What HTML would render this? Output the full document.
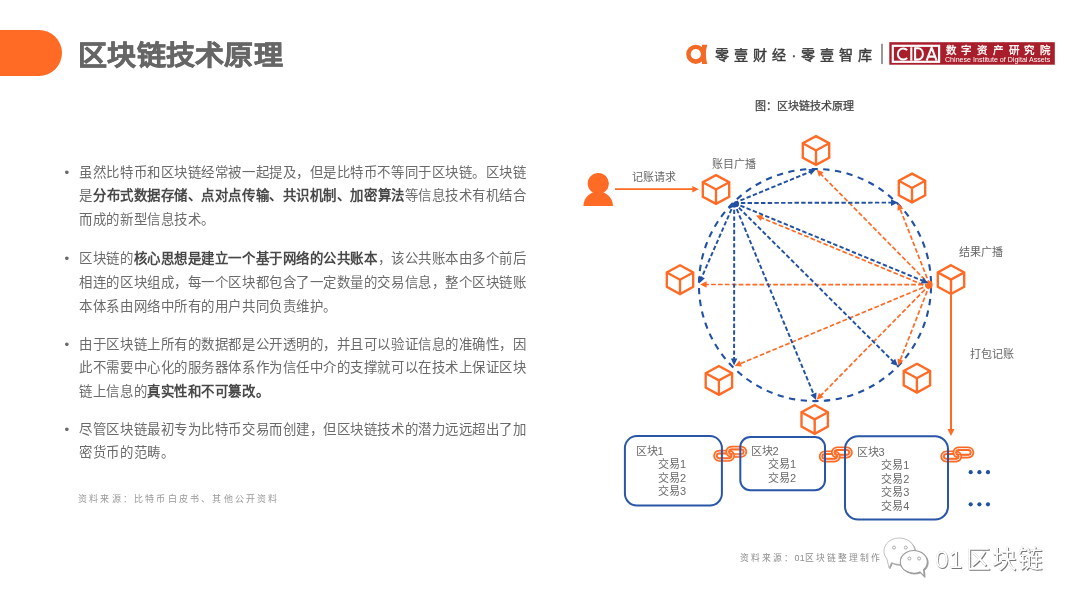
<!DOCTYPE html>
<html lang="zh-CN"><head><meta charset="utf-8">
<style>
html,body{margin:0;padding:0;background:#fff;}
body{width:1080px;height:608px;position:relative;overflow:hidden;font-family:"Liberation Sans",sans-serif;}
.abs{position:absolute;white-space:nowrap;}
#wrap{position:absolute;left:0;top:0;width:1080px;height:608px;will-change:transform;}
#pill{position:absolute;left:-30px;top:29.6px;width:92.2px;height:46px;background:#FF6A24;border-radius:0 23px 23px 0;}
#title{position:absolute;left:78px;top:37.1px;transform:scaleY(0.935);transform-origin:0 0;font-size:29px;font-weight:bold;color:#666;letter-spacing:0.3px;line-height:40px;-webkit-text-stroke:0.6px #666;}
.para{position:absolute;left:79.4px;font-size:13.4px;letter-spacing:0.55px;line-height:23.7px;color:#6a6a6a;white-space:nowrap;margin-top:0.7px;}
.para b{color:#484848;}
.bul{position:absolute;left:-15px;}
.lbl{position:absolute;font-size:11px;color:#666;white-space:nowrap;line-height:12px;}
.blk{position:absolute;font-size:11px;color:#6A6A6A;white-space:nowrap;line-height:13.55px;}
svg{position:absolute;left:0;top:0;}
</style></head><body><div id="wrap">
<div id="pill"></div>
<div id="title">区块链技术原理</div>

<div class="para" style="top:160px"><span class="bul">•</span>虽然比特币和区块链经常被一起提及，但是比特币不等同于区块链。区块链<br>是<b>分布式数据存储、点对点传输、共识机制、加密算法</b>等信息技术有机结合<br>而成的新型信息技术。</div>
<div class="para" style="top:246.5px"><span class="bul">•</span>区块链的<b>核心思想是建立一个基于网络的公共账本</b>，该公共账本由多个前后<br>相连的区块组成，每一个区块都包含了一定数量的交易信息，整个区块链账<br>本体系由网络中所有的用户共同负责维护。</div>
<div class="para" style="top:332px"><span class="bul">•</span>由于区块链上所有的数据都是公开透明的，并且可以验证信息的准确性，因<br>此不需要中心化的服务器体系作为信任中介的支撑就可以在技术上保证区块<br>链上信息的<b>真实性和不可篡改。</b></div>
<div class="para" style="top:417px"><span class="bul">•</span>尽管区块链最初专为比特币交易而创建，但区块链技术的潜力远远超出了加<br>密货币的范畴。</div>
<div class="abs" style="left:78px;top:492px;font-size:9px;letter-spacing:2.2px;color:#999;font-family:'Liberation Serif',serif;">资料来源：比特币白皮书、其他公开资料</div>

<svg width="1080" height="608" viewBox="0 0 1080 608">
<circle cx="815" cy="285.05" r="116.05" fill="none" stroke="#2251A3" stroke-width="2.1" stroke-dasharray="6.3 5.455" stroke-dashoffset="9.555"/>
<line x1="929.7" y1="287.5" x2="761.5" y2="217.8" stroke="#FF6A24" stroke-width="1.7" stroke-dasharray="4.7 2.2"/><polygon points="756.0,215.5 763.2,215.0 760.8,220.9" fill="#FF6A24"/>
<line x1="929.7" y1="284.7" x2="820.9" y2="174.1" stroke="#FF6A24" stroke-width="1.7" stroke-dasharray="4.7 2.2"/><polygon points="816.7,169.8 823.5,172.2 819.0,176.7" fill="#FF6A24"/>
<line x1="929.7" y1="284.7" x2="900.2" y2="209.2" stroke="#FF6A24" stroke-width="1.7" stroke-dasharray="4.7 2.2"/><polygon points="898.0,203.6 903.3,208.5 897.4,210.8" fill="#FF6A24"/>
<line x1="929.7" y1="284.7" x2="900.3" y2="360.1" stroke="#FF6A24" stroke-width="1.7" stroke-dasharray="4.7 2.2"/><polygon points="898.1,365.7 897.5,358.5 903.4,360.8" fill="#FF6A24"/>
<line x1="929.7" y1="284.7" x2="820.9" y2="395.4" stroke="#FF6A24" stroke-width="1.7" stroke-dasharray="4.7 2.2"/><polygon points="816.7,399.7 819.0,392.8 823.5,397.3" fill="#FF6A24"/>
<line x1="929.7" y1="284.7" x2="740.2" y2="363.7" stroke="#FF6A24" stroke-width="1.7" stroke-dasharray="4.7 2.2"/><polygon points="734.7,366.0 739.5,360.5 741.9,366.5" fill="#FF6A24"/>
<line x1="929.7" y1="284.7" x2="706.1" y2="284.5" stroke="#FF6A24" stroke-width="1.7" stroke-dasharray="4.7 2.2"/><polygon points="700.1,284.5 706.6,281.3 706.6,287.7" fill="#FF6A24"/>
<line x1="734.2" y1="203.0" x2="810.1" y2="171.8" stroke="#2251A3" stroke-width="1.95" stroke-dasharray="4.4 2.3"/><polygon points="816.1,169.3 810.9,175.0 808.4,168.9" fill="#2251A3"/>
<line x1="734.2" y1="203.0" x2="891.5" y2="202.6" stroke="#2251A3" stroke-width="1.95" stroke-dasharray="4.4 2.3"/><polygon points="898.0,202.6 891.0,205.9 891.0,199.3" fill="#2251A3"/>
<line x1="734.2" y1="203.0" x2="922.5" y2="280.7" stroke="#2251A3" stroke-width="1.95" stroke-dasharray="4.4 2.3"/><polygon points="928.5,283.2 920.8,283.6 923.3,277.5" fill="#2251A3"/>
<line x1="734.2" y1="203.0" x2="893.2" y2="361.5" stroke="#2251A3" stroke-width="1.95" stroke-dasharray="4.4 2.3"/><polygon points="897.8,366.1 890.5,363.5 895.2,358.8" fill="#2251A3"/>
<line x1="734.2" y1="203.0" x2="813.6" y2="394.1" stroke="#2251A3" stroke-width="1.95" stroke-dasharray="4.4 2.3"/><polygon points="816.1,400.1 810.4,394.9 816.5,392.4" fill="#2251A3"/>
<line x1="734.2" y1="203.0" x2="734.1" y2="358.9" stroke="#2251A3" stroke-width="1.95" stroke-dasharray="4.4 2.3"/><polygon points="734.1,365.4 730.8,358.4 737.4,358.4" fill="#2251A3"/>
<line x1="734.2" y1="203.0" x2="701.7" y2="277.4" stroke="#2251A3" stroke-width="1.95" stroke-dasharray="4.4 2.3"/><polygon points="699.1,283.4 698.9,275.7 704.9,278.3" fill="#2251A3"/>
<line x1="728.6" y1="208" x2="736" y2="204.3" stroke="#2251A3" stroke-width="2.2"/>
<circle cx="736.2" cy="204.3" r="2.8" fill="#2251A3"/>
<ellipse cx="930.3" cy="284.7" rx="2.3" ry="3.9" fill="#FF6A24"/>
<g transform="translate(716,189.5)" fill="none" stroke="#FF6A24" stroke-width="2.35" stroke-linejoin="miter"><polygon points="0,-14.4 13.2,-7.2 13.2,7.2 0,14.4 -13.2,7.2 -13.2,-7.2"/><polyline points="-13.2,-7.2 0,0 13.2,-7.2"/><line x1="0" y1="0" x2="0" y2="14.4"/></g>
<g transform="translate(816,150.5)" fill="none" stroke="#FF6A24" stroke-width="2.35" stroke-linejoin="miter"><polygon points="0,-14.4 13.2,-7.2 13.2,7.2 0,14.4 -13.2,7.2 -13.2,-7.2"/><polyline points="-13.2,-7.2 0,0 13.2,-7.2"/><line x1="0" y1="0" x2="0" y2="14.4"/></g>
<g transform="translate(912,188)" fill="none" stroke="#FF6A24" stroke-width="2.35" stroke-linejoin="miter"><polygon points="0,-14.4 13.2,-7.2 13.2,7.2 0,14.4 -13.2,7.2 -13.2,-7.2"/><polyline points="-13.2,-7.2 0,0 13.2,-7.2"/><line x1="0" y1="0" x2="0" y2="14.4"/></g>
<g transform="translate(951,279.6)" fill="none" stroke="#FF6A24" stroke-width="2.35" stroke-linejoin="miter"><polygon points="0,-14.4 13.2,-7.2 13.2,7.2 0,14.4 -13.2,7.2 -13.2,-7.2"/><polyline points="-13.2,-7.2 0,0 13.2,-7.2"/><line x1="0" y1="0" x2="0" y2="14.4"/></g>
<g transform="translate(916.9,378.2)" fill="none" stroke="#FF6A24" stroke-width="2.35" stroke-linejoin="miter"><polygon points="0,-14.4 13.2,-7.2 13.2,7.2 0,14.4 -13.2,7.2 -13.2,-7.2"/><polyline points="-13.2,-7.2 0,0 13.2,-7.2"/><line x1="0" y1="0" x2="0" y2="14.4"/></g>
<g transform="translate(814.7,419.4)" fill="none" stroke="#FF6A24" stroke-width="2.35" stroke-linejoin="miter"><polygon points="0,-14.4 13.2,-7.2 13.2,7.2 0,14.4 -13.2,7.2 -13.2,-7.2"/><polyline points="-13.2,-7.2 0,0 13.2,-7.2"/><line x1="0" y1="0" x2="0" y2="14.4"/></g>
<g transform="translate(718.9,380.4)" fill="none" stroke="#FF6A24" stroke-width="2.35" stroke-linejoin="miter"><polygon points="0,-14.4 13.2,-7.2 13.2,7.2 0,14.4 -13.2,7.2 -13.2,-7.2"/><polyline points="-13.2,-7.2 0,0 13.2,-7.2"/><line x1="0" y1="0" x2="0" y2="14.4"/></g>
<g transform="translate(680,279.7)" fill="none" stroke="#FF6A24" stroke-width="2.35" stroke-linejoin="miter"><polygon points="0,-14.4 13.2,-7.2 13.2,7.2 0,14.4 -13.2,7.2 -13.2,-7.2"/><polyline points="-13.2,-7.2 0,0 13.2,-7.2"/><line x1="0" y1="0" x2="0" y2="14.4"/></g>
<circle cx="598.3" cy="183.6" r="10.6" fill="#FF6A24"/>
<path d="M583.4,206.1 A14.8,14.6 0 0 1 613,206.1 Z" fill="#FF6A24"/>
<line x1="615.0" y1="189.2" x2="692.8" y2="189.2" stroke="#FF6A24" stroke-width="1.7" stroke-dasharray="none"/><polygon points="698.8,189.2 692.3,192.5 692.3,185.9" fill="#FF6A24"/>
<line x1="951.0" y1="294.5" x2="951.0" y2="429.5" stroke="#FF6A24" stroke-width="2.0" stroke-dasharray="none"/><polygon points="951.0,436.0 947.5,429.0 954.5,429.0" fill="#FF6A24"/>
<clipPath id="cu1"><rect x="711.2" y="443.8" width="40" height="10.6"/></clipPath><clipPath id="cl1"><rect x="711.2" y="454.4" width="40" height="12"/></clipPath><g clip-path="url(#cl1)"><rect x="727.7" y="448.1" width="17.2" height="7.4" rx="3.7" fill="none" stroke="#FF6A24" stroke-width="4.6"/><rect x="727.5" y="447.9" width="17.6" height="7.8" rx="3.9" fill="none" stroke="#fff" stroke-width="0.85"/></g><g ><rect x="715.5" y="452.1" width="17.2" height="7.4" rx="3.7" fill="none" stroke="#FF6A24" stroke-width="4.6"/><rect x="715.3" y="451.9" width="17.6" height="7.8" rx="3.9" fill="none" stroke="#fff" stroke-width="0.85"/></g><g clip-path="url(#cu1)"><rect x="727.7" y="448.1" width="17.2" height="7.4" rx="3.7" fill="none" stroke="#FF6A24" stroke-width="4.6"/><rect x="727.5" y="447.9" width="17.6" height="7.8" rx="3.9" fill="none" stroke="#fff" stroke-width="0.85"/></g>
<clipPath id="cu2"><rect x="816.8" y="444.4" width="40" height="10.6"/></clipPath><clipPath id="cl2"><rect x="816.8" y="455.0" width="40" height="12"/></clipPath><g clip-path="url(#cl2)"><rect x="833.3" y="448.7" width="17.2" height="7.4" rx="3.7" fill="none" stroke="#FF6A24" stroke-width="4.6"/><rect x="833.1" y="448.5" width="17.6" height="7.8" rx="3.9" fill="none" stroke="#fff" stroke-width="0.85"/></g><g ><rect x="821.1" y="452.7" width="17.2" height="7.4" rx="3.7" fill="none" stroke="#FF6A24" stroke-width="4.6"/><rect x="820.9" y="452.5" width="17.6" height="7.8" rx="3.9" fill="none" stroke="#fff" stroke-width="0.85"/></g><g clip-path="url(#cu2)"><rect x="833.3" y="448.7" width="17.2" height="7.4" rx="3.7" fill="none" stroke="#FF6A24" stroke-width="4.6"/><rect x="833.1" y="448.5" width="17.6" height="7.8" rx="3.9" fill="none" stroke="#fff" stroke-width="0.85"/></g>
<clipPath id="cu3"><rect x="938.3" y="444.4" width="40" height="10.6"/></clipPath><clipPath id="cl3"><rect x="938.3" y="455.0" width="40" height="12"/></clipPath><g clip-path="url(#cl3)"><rect x="954.8" y="448.7" width="17.2" height="7.4" rx="3.7" fill="none" stroke="#FF6A24" stroke-width="4.6"/><rect x="954.6" y="448.5" width="17.6" height="7.8" rx="3.9" fill="none" stroke="#fff" stroke-width="0.85"/></g><g ><rect x="942.6" y="452.7" width="17.2" height="7.4" rx="3.7" fill="none" stroke="#FF6A24" stroke-width="4.6"/><rect x="942.4" y="452.5" width="17.6" height="7.8" rx="3.9" fill="none" stroke="#fff" stroke-width="0.85"/></g><g clip-path="url(#cu3)"><rect x="954.8" y="448.7" width="17.2" height="7.4" rx="3.7" fill="none" stroke="#FF6A24" stroke-width="4.6"/><rect x="954.6" y="448.5" width="17.6" height="7.8" rx="3.9" fill="none" stroke="#fff" stroke-width="0.85"/></g>
<rect x="624.9" y="436.1" width="97" height="69.4" rx="12" fill="none" stroke="#2A56A8" stroke-width="2"/>
<rect x="740.3" y="437" width="84.7" height="53.2" rx="10" fill="none" stroke="#2A56A8" stroke-width="2"/>
<rect x="845" y="436.2" width="103" height="83.4" rx="13" fill="none" stroke="#2A56A8" stroke-width="2"/>
<circle cx="970.7" cy="472.2" r="2.1" fill="#2251A3"/>
<circle cx="979.4" cy="472.2" r="2.1" fill="#2251A3"/>
<circle cx="988" cy="472.2" r="2.1" fill="#2251A3"/>
<circle cx="970.7" cy="504.3" r="2.1" fill="#2251A3"/>
<circle cx="979.4" cy="504.3" r="2.1" fill="#2251A3"/>
<circle cx="988" cy="504.3" r="2.1" fill="#2251A3"/>
<path fill-rule="evenodd" fill="#F26A26" d="M705.4,54.3 A9.6,9.6 0 1 1 686.2,54.3 A9.6,9.6 0 1 1 705.4,54.3 Z M700.9,54.2 A5.1,5.1 0 1 0 690.7,54.2 A5.1,5.1 0 1 0 700.9,54.2 Z"/>
<path fill="#F26A26" d="M702,44.8 L707.2,44.8 Q704.6,54.4 707.2,64 L702,64 Z"/>
<line x1="882" y1="43.7" x2="882" y2="64" stroke="#555" stroke-width="1.2"/>
<rect x="889.3" y="42.2" width="165.5" height="22.5" fill="#A81E2B"/>
<rect x="892.8" y="45.8" width="46.3" height="16" fill="none" stroke="#fff" stroke-width="2.2"/>
<g stroke="#fff" fill="none" stroke-width="2"><path d="M907.2,50.2 A5.4,5.6 0 1 0 907.2,57.8"/><line x1="911.3" y1="47.3" x2="911.3" y2="60.6" stroke-width="2.1"/><line x1="915.1" y1="47.3" x2="915.1" y2="60.6" stroke-width="2.1"/><path d="M915,48.3 L918.2,48.3 A4.7,5.65 0 0 1 918.2,59.6 L915,59.6"/><path d="M926.6,60.6 L931.6,47.6 L936.6,60.6 M928.2,56.6 L935,56.6" stroke-width="2.1"/></g>
<g transform="translate(0.9,0.9)" fill="#9a9a9a" stroke="#9a9a9a" stroke-width="0.8"><path d="M889,567.8 L886.9,559 A15.4,13.2 0 1 1 891.6,562.6 Z"/><path d="M924.2,576.4 L919.9,571.9 A13.5,11.3 0 1 1 923.6,569.6 Z"/></g>
<g fill="#fff" stroke="#b4b4b4" stroke-width="0.8"><path d="M889,567.8 L886.9,559 A15.4,13.2 0 1 1 891.6,562.6 Z"/></g>
<g fill="#fff" stroke="#9a9a9a" stroke-width="1.1"><path d="M924.2,576.4 L919.9,571.9 A13.5,11.3 0 1 1 923.6,569.6 Z"/></g>
<circle cx="894" cy="547.6" r="1.5" fill="#fff" stroke="#999" stroke-width="0.8"/>
<circle cx="905.8" cy="547.6" r="1.5" fill="#fff" stroke="#999" stroke-width="0.8"/>
<circle cx="909.4" cy="558.5" r="1.5" fill="#fff" stroke="#999" stroke-width="0.8"/>
<circle cx="919.1" cy="558.5" r="1.5" fill="#fff" stroke="#999" stroke-width="0.8"/>
</svg>

<div class="abs" style="left:715px;top:46.7px;font-size:14px;letter-spacing:5.1px;color:#3C3C3C;-webkit-text-stroke:0.45px #3C3C3C;line-height:16px;">零壹财经·零壹智库</div>
<div class="abs" style="left:945.5px;top:45.3px;font-size:10.5px;letter-spacing:5.75px;color:#fff;-webkit-text-stroke:0.35px #fff;line-height:11px;">数字资产研究院</div>
<div class="abs" style="left:945px;top:56.7px;font-size:7.1px;color:#fff;line-height:7px;">Chinese Institute of Digital Assets</div>
<div class="abs" style="left:754.5px;top:100px;font-size:11px;color:#444;line-height:13px;-webkit-text-stroke:0.25px #444;">图：区块链技术原理</div>

<div class="lbl" style="left:632px;top:170.6px;">记账请求</div>
<div class="lbl" style="left:712px;top:157.5px;">账目广播</div>
<div class="lbl" style="left:959px;top:245.5px;">结果广播</div>
<div class="lbl" style="left:970.4px;top:347.7px;">打包记账</div>

<div class="blk" style="left:635.6px;top:445px;">区块1</div>
<div class="blk" style="left:658.1px;top:458.3px;">交易1<br>交易2<br>交易3</div>
<div class="blk" style="left:750.5px;top:444.5px;">区块2</div>
<div class="blk" style="left:768px;top:458.3px;">交易1<br>交易2</div>
<div class="blk" style="left:856.5px;top:445.5px;">区块3</div>
<div class="blk" style="left:881.3px;top:459.3px;">交易1<br>交易2<br>交易3<br>交易4</div>

<div class="abs" style="left:739.5px;top:550.6px;font-size:8.8px;letter-spacing:2.0px;color:#8c8c8c;font-family:'Liberation Serif',serif;">资料来源：<span style="font-family:'Liberation Sans',sans-serif;letter-spacing:0.3px">01</span>区块链整理制作</div>
<div class="abs" style="left:935px;top:545.2px;font-size:24.5px;font-weight:300;letter-spacing:1.9px;color:#fff;line-height:30px;text-shadow:0.8px 0.8px 0.6px #777,0 0 0.6px #aaa;"><span style="letter-spacing:0.2px">0</span><span style="letter-spacing:3.6px">1</span>区块链</div>
</div></body></html>
